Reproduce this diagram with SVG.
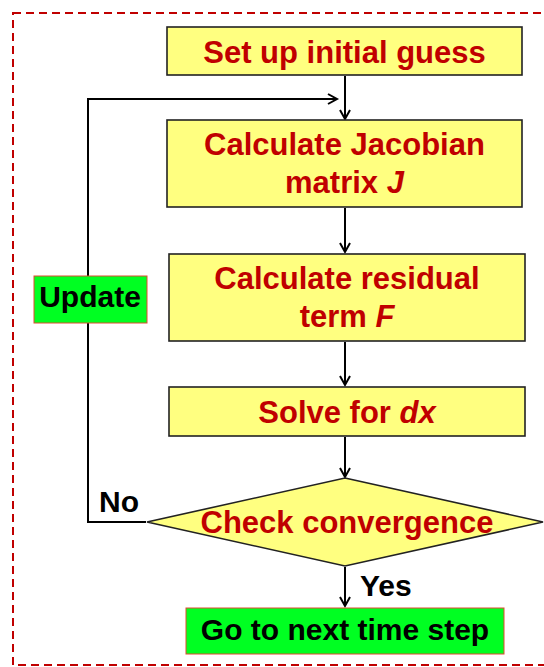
<svg xmlns="http://www.w3.org/2000/svg" width="544" height="667" viewBox="0 0 544 667">
<style>
.frame{fill:none;stroke:#c00000;stroke-width:2;stroke-dasharray:8 5}
.box{fill:#ffff80;stroke:#222;stroke-width:1.6}
.gbox{fill:#00ff22;stroke:#e04a30;stroke-width:1}
.t{font-family:"Liberation Sans",Arial,sans-serif;font-weight:bold;font-size:31px;fill:#c00000;text-anchor:middle}
.k{font-family:"Liberation Sans",Arial,sans-serif;font-weight:bold;font-size:30px;fill:#000}
.c{fill:none;stroke:#000;stroke-width:2}
</style>
<defs>
<marker id="ah" markerUnits="userSpaceOnUse" markerWidth="14" markerHeight="14" refX="10" refY="6" orient="auto">
<path d="M1,1 L10,6 L1,11" fill="none" stroke="#000" stroke-width="2"/>
</marker>
</defs>
<rect class="frame" x="13" y="13" width="545" height="652"/>
<g id="connectors">
<line class="c" x1="345" y1="76" x2="345" y2="119" marker-end="url(#ah)"/>
<path class="c" d="M146,522 H88 V99 H337" marker-end="url(#ah)"/>
<line class="c" x1="345" y1="208" x2="345" y2="252" marker-end="url(#ah)"/>
<line class="c" x1="345" y1="342" x2="345" y2="385" marker-end="url(#ah)"/>
<line class="c" x1="345" y1="437" x2="345" y2="477" marker-end="url(#ah)"/>
<line class="c" x1="345" y1="567" x2="345" y2="606" marker-end="url(#ah)"/>
</g>
<g id="setup">
<rect class="box" x="167" y="27" width="355" height="48"/>
<text class="t" x="344.5" y="63">Set up initial guess</text>
</g>
<g id="jacobian">
<rect class="box" x="167" y="120" width="355" height="87"/>
<text class="t" x="344.5" y="155">Calculate Jacobian</text>
<text class="t" x="344.5" y="193">matrix <tspan font-style="italic">J</tspan></text>
</g>
<g id="residual">
<rect class="box" x="169" y="254" width="356" height="87"/>
<text class="t" x="347" y="289">Calculate residual</text>
<text class="t" x="347" y="327">term <tspan font-style="italic">F</tspan></text>
</g>
<g id="solve">
<rect class="box" x="169" y="387" width="356" height="49"/>
<text class="t" x="347" y="423">Solve for <tspan font-style="italic">dx</tspan></text>
</g>
<g id="check">
<polygon class="box" points="345,478 543,522 345,566 147,522"/>
<text class="t" x="347" y="533">Check convergence</text>
</g>
<g id="update">
<rect class="gbox" x="34" y="276" width="113" height="47"/>
<text class="k" x="90" y="307" text-anchor="middle">Update</text>
</g>
<g id="next">
<rect class="gbox" x="186" y="608" width="318" height="46"/>
<text class="k" x="345" y="640" text-anchor="middle" font-size="31">Go to next time step</text>
</g>
<g id="labels">
<text class="k" x="99" y="512" font-size="31">No</text>
<text class="k" x="360" y="596" font-size="29">Yes</text>
</g>
</svg>
